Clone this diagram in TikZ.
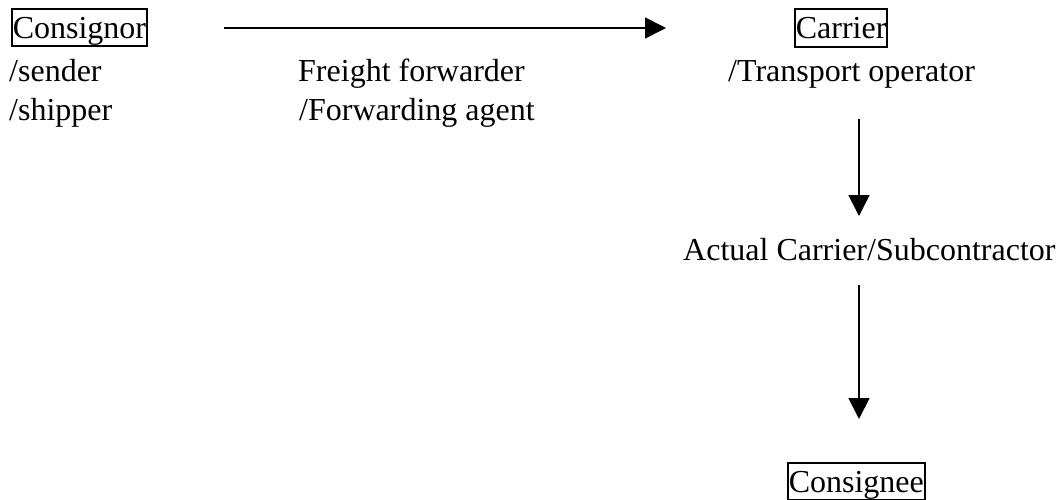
\documentclass[tikz,border=0pt]{standalone}
\usepackage{fontspec}
\setmainfont{Liberation Serif}
\usetikzlibrary{arrows.meta}
\begin{document}
\begin{tikzpicture}[x=1pt, y=-1pt,
  every node/.style={font=\fontsize{32}{38}\selectfont, anchor=base west},
  label/.style={inner sep=0pt},
  boxed/.style={draw, line width=2pt, inner xsep=0.8pt, inner ysep=1pt,
                text height=28.5pt, text depth=6.8pt},
  arr/.style={line width=1.8pt, -{Triangle[length=21pt,width=21pt]}}]
  \useasboundingbox (0,0) rectangle (1058,500);

  % left column: consignor
  \node[boxed] (consignor) at (11,38.5) {Consignor};
  \node[label] (sender)  at (9,82)  {/sender};
  \node[label] (shipper) at (9,121) {/shipper};

  % middle column: forwarder
  \node[label] (forwarder) at (298,82)  {Freight forwarder};
  \node[label] (agent)     at (299,121) {/Forwarding agent};

  % right column: carrier chain
  \node[boxed] (carrier)   at (794,39)   {Carrier};
  \node[label] (transport) at (728,82)   {/Transport operator};
  \node[label] (actual)    at (683,260)  {Actual Carrier/Subcontractor};
  \node[boxed] (consignee) at (787,492)  {Consignee};

  % arrow end points
  \coordinate (h1) at (224,28);
  \coordinate (h2) at (666,28);
  \coordinate (v1s) at (859,119);
  \coordinate (v1e) at (859,216);
  \coordinate (v2s) at (859,285);
  \coordinate (v2e) at (859,419);

  \draw[arr] (h1) -- (h2);
  \draw[arr] (v1s) -- (v1e);
  \draw[arr] (v2s) -- (v2e);
\end{tikzpicture}
\end{document}
